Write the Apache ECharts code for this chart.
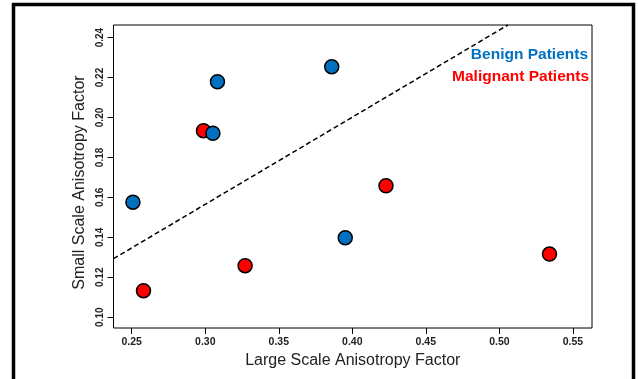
<!DOCTYPE html>
<html>
<head>
<meta charset="utf-8">
<script src="https://cdn.jsdelivr.net/npm/echarts@6/dist/echarts.min.js"></script>
<style>
  html, body { margin: 0; padding: 0; background: #fff; }
  #chart { width: 638px; height: 379px; }
</style>
</head>
<body>
<div id="chart"></div>
<script>
// benign patients: [large scale, small scale]
var benignX = [0.2508, 0.3083, 0.3052, 0.3860, 0.3952];
var benignY = [0.1576, 0.2179, 0.1921, 0.2254, 0.1398];
// malignant patients
var malignantX = [0.2988, 0.2580, 0.3271, 0.4229, 0.5341];
var malignantY = [0.1934, 0.1133, 0.1258, 0.1658, 0.1316];
// dashed separating line (ends read at the plot edges)
var lineX = [0.2376, 0.5058];
var lineY = [0.1293, 0.2463];
// tick labels
var xTicks = [0.25, 0.30, 0.35, 0.40, 0.45, 0.50, 0.55];
var yTicks = [0.10, 0.12, 0.14, 0.16, 0.18, 0.20, 0.22, 0.24];

function pairs(xs, ys) {
  return xs.map(function (x, i) { return [x, ys[i]]; });
}

var chart = echarts.init(document.getElementById('chart'));
chart.setOption({
  backgroundColor: '#fff',
  animation: false,
  grid: {
    left: 113.5, right: 46, top: 25, bottom: 51,
    show: true, borderColor: '#000', borderWidth: 1, backgroundColor: '#fff'
  },
  xAxis: {
    type: 'value', min: 0.2376, max: 0.5630,
    name: 'Large Scale Anisotropy Factor',
    nameLocation: 'middle', nameGap: 22,
    nameTextStyle: { fontFamily: 'Liberation Sans', fontSize: 16, color: '#222' },
    axisLine: { show: false },
    axisTick: { show: true, inside: false, length: 6, customValues: xTicks, lineStyle: { color: '#000' } },
    axisLabel: {
      customValues: xTicks, margin: 9,
      fontFamily: 'Liberation Sans', fontWeight: 'bold', fontSize: 10.5, color: '#222',
      formatter: function (v) { return v.toFixed(2); }
    },
    splitLine: { show: false }
  },
  yAxis: {
    type: 'value', min: 0.0946, max: 0.2463,
    name: 'Small Scale Anisotropy Factor',
    nameLocation: 'middle', nameGap: 21,
    nameTextStyle: { fontFamily: 'Liberation Sans', fontSize: 16, color: '#222', padding: [0, 0, 0, -12] },
    axisLine: { show: false },
    axisTick: { show: true, inside: false, length: 6, customValues: yTicks, lineStyle: { color: '#000' } },
    axisLabel: {
      customValues: yTicks, rotate: 90, margin: 8,
      fontFamily: 'Liberation Sans', fontWeight: 'bold', fontSize: 10, color: '#222',
      formatter: function (v) { return v.toFixed(2); }
    },
    splitLine: { show: false }
  },
  graphic: [
    {
      type: 'rect', silent: true, z: 100,
      shape: { x: 13.5, y: 4.5, width: 620, height: 400 },
      style: { fill: 'none', stroke: '#000', lineWidth: 3.5 }
    },
    {
      type: 'text', right: 50, top: 47, z: 100,
      style: { text: 'Benign Patients', fill: '#0070c0', font: 'bold 15.5px "Liberation Sans"', textAlign: 'right' }
    },
    {
      type: 'text', right: 49, top: 69, z: 100,
      style: { text: 'Malignant Patients', fill: '#ff0000', font: 'bold 15.5px "Liberation Sans"', textAlign: 'right' }
    }
  ],
  series: [
    {
      name: 'Boundary', type: 'line', data: pairs(lineX, lineY),
      symbol: 'none', silent: true,
      lineStyle: { color: '#000', width: 1.5, type: [5, 3] }
    },
    {
      name: 'Malignant Patients', type: 'scatter', data: pairs(malignantX, malignantY),
      symbolSize: 14,
      itemStyle: { color: '#ff0000', borderColor: '#000', borderWidth: 1.5, opacity: 1 }
    },
    {
      name: 'Benign Patients', type: 'scatter', data: pairs(benignX, benignY),
      symbolSize: 14,
      itemStyle: { color: '#0070c0', borderColor: '#000', borderWidth: 1.5, opacity: 1 }
    }
  ]
});
</script>
</body>
</html>
